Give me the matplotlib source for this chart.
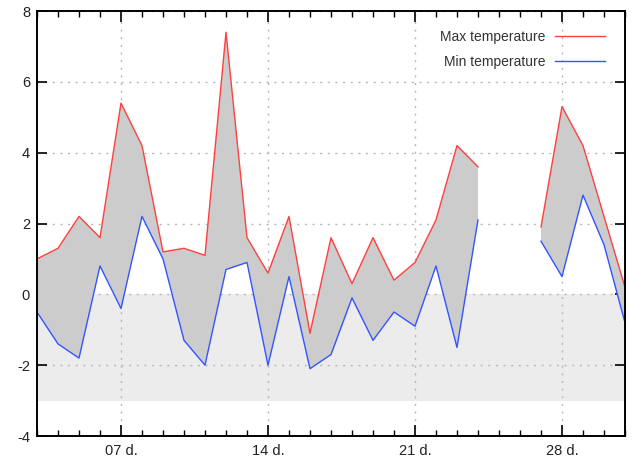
import numpy as np
import matplotlib
matplotlib.use("Agg")
import matplotlib.pyplot as plt
from matplotlib.ticker import MultipleLocator, FixedLocator

plt.rcParams['font.family'] = ['Liberation Sans', 'DejaVu Sans']

days = list(range(3, 32))
t_max = [1.0, 1.3, 2.2, 1.6, 5.4, 4.2, 1.2, 1.3, 1.1, 7.4, 1.6, 0.6, 2.2, -1.1,
         1.6, 0.3, 1.6, 0.4, 0.9, 2.1, 4.2, 3.6, np.nan, np.nan, 1.9, 5.3, 4.2, 2.2, 0.2]
t_min = [-0.5, -1.4, -1.8, 0.8, -0.4, 2.2, 1.0, -1.3, -2.0, 0.7, 0.9, -2.0, 0.5, -2.1,
         -1.7, -0.1, -1.3, -0.5, -0.9, 0.8, -1.5, 2.1, np.nan, np.nan, 1.5, 0.5, 2.8, 1.4, -0.8]
major_days = [7, 14, 21, 28]
major_labels = ["07 d.", "14 d.", "21 d.", "28 d."]
band_low, band_high = -3, 0

x = np.array(days, dtype=float)
hi = np.array(t_max)
lo = np.array(t_min)

fig = plt.figure(figsize=(6.37, 4.57), dpi=100)
ax = fig.add_axes([37 / 637, 21 / 457, 588 / 637, 425 / 457])

ax.set_xlim(3, 31)
ax.set_ylim(-4, 8)

# light band below freezing
ax.axhspan(band_low, band_high, color='#ececec', lw=0, zorder=0)

# grid
ax.xaxis.set_major_locator(FixedLocator(major_days))
ax.xaxis.set_minor_locator(MultipleLocator(1))
ax.yaxis.set_major_locator(MultipleLocator(2))
ax.grid(True, which='major', color='#b8b8b8', linestyle=(0, (1.5, 4)), lw=1.0, zorder=1)

# range between max and min
ax.fill_between(x, lo, hi, where=~np.isnan(hi), color='#cccccc', lw=0, zorder=2)
ax.plot(x, hi, color='#ff4040', lw=1.0, zorder=3, label='Max temperature')
ax.plot(x, lo, color='#3355ff', lw=1.0, zorder=3, label='Min temperature')

ax.set_xticks(major_days)
ax.set_xticklabels(major_labels)
ax.set_yticks([-4, -2, 0, 2, 4, 6, 8])
ax.set_yticklabels(['-4', '-2', '0', '2', '4', '6', '8'])

ax.tick_params(which='both', direction='in', top=True, right=True, color='black',
               labelsize=10.5, labelcolor='#222222')
ax.tick_params(which='major', length=8, width=1.2)
ax.tick_params(which='minor', length=4, width=1.0)
ax.tick_params(axis='y', which='major', length=7, pad=5)
ax.tick_params(axis='x', which='major', pad=6)
for s in ax.spines.values():
    s.set_linewidth(1.4)
    s.set_color('black')
    s.set_zorder(5)

leg = ax.legend(loc='upper right', bbox_to_anchor=((605 - 37) / 588, (436 - 30) / 425),
                frameon=False, markerfirst=False,
                handlelength=3.6, handletextpad=0.7, labelspacing=0.8,
                borderaxespad=0, borderpad=0,
                prop={'size': 10})
for t in leg.get_texts():
    t.set_color('#333333')

fig.savefig('out.png', dpi=100)
